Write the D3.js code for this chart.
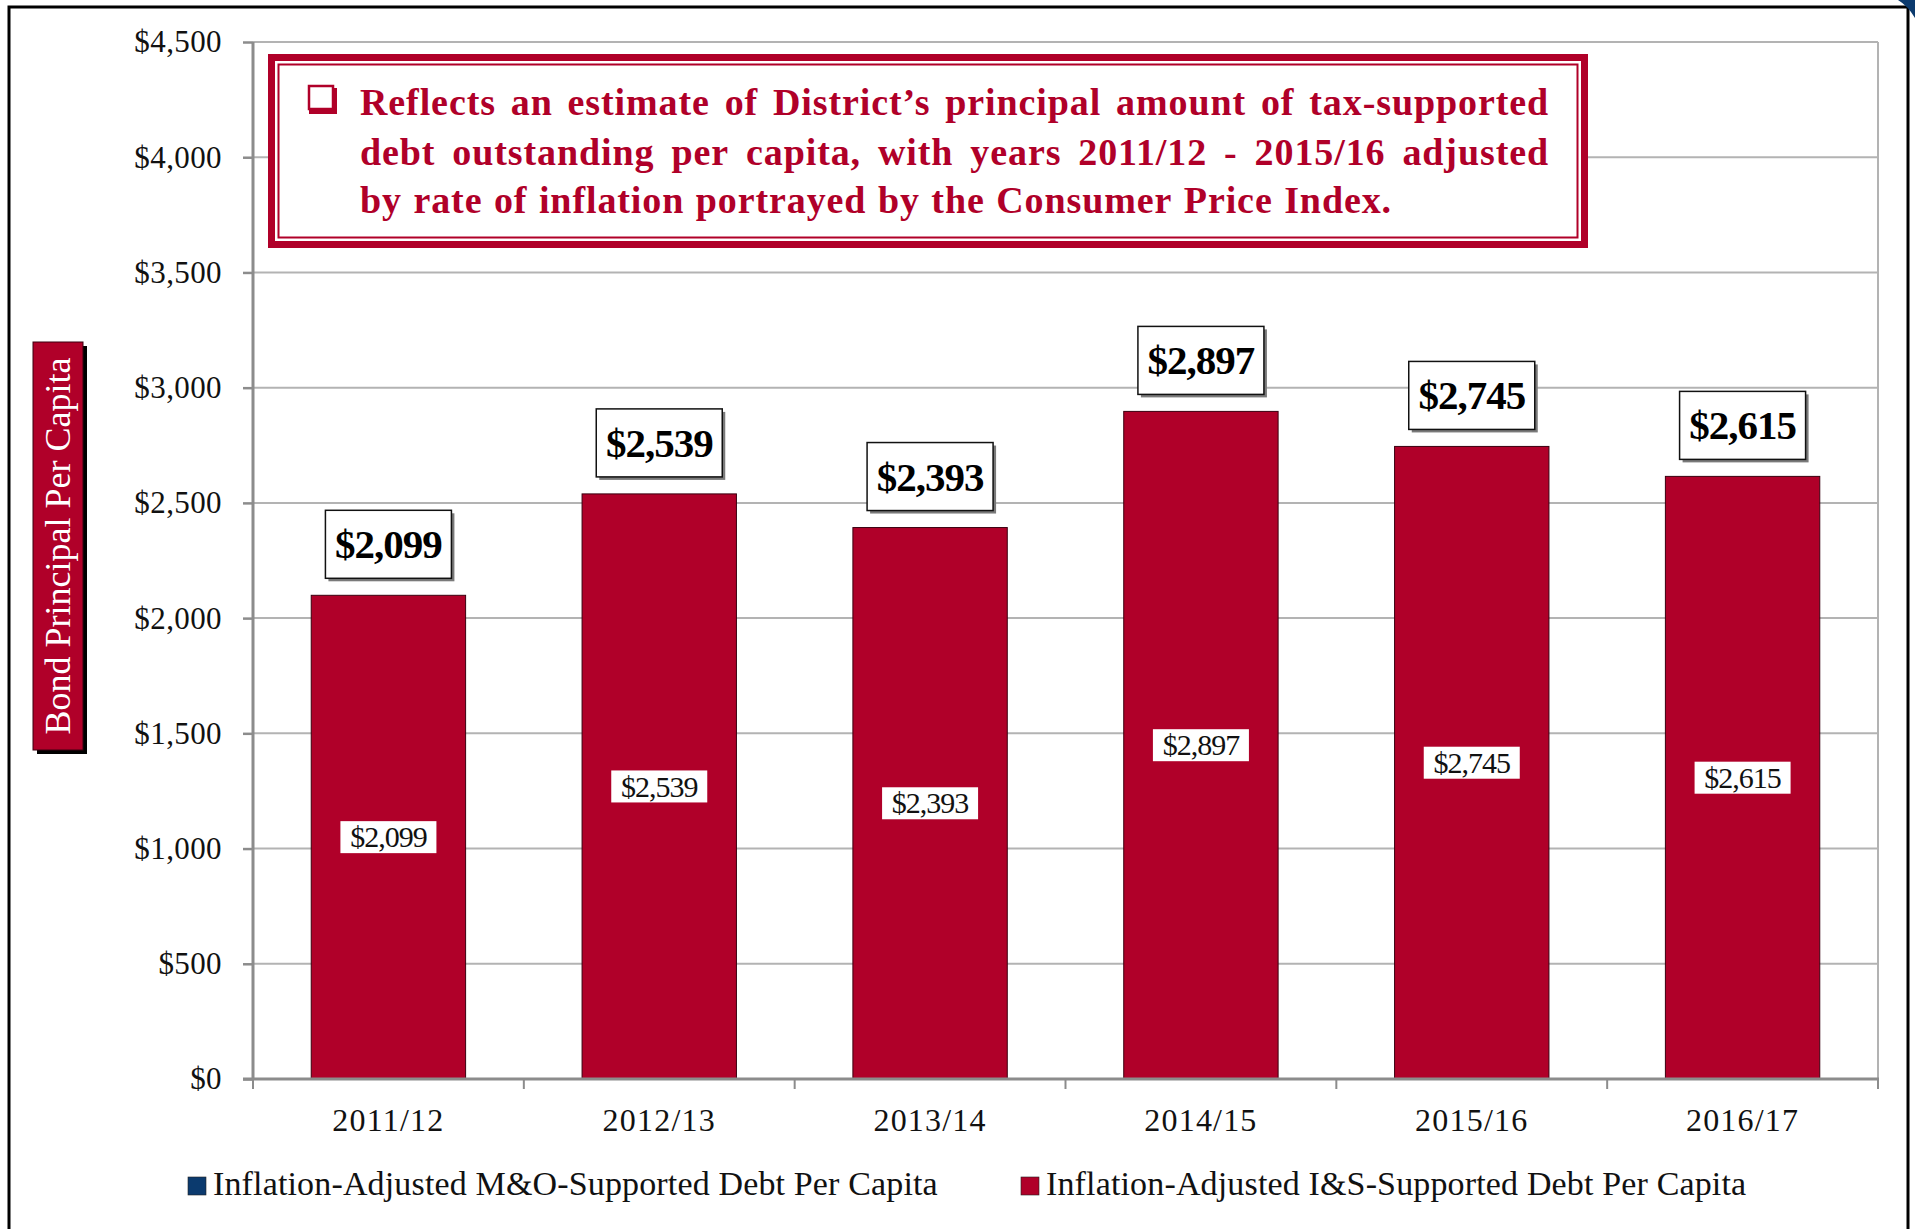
<!DOCTYPE html>
<html>
<head>
<meta charset="utf-8">
<script src="https://cdn.jsdelivr.net/npm/d3@7"></script>
<style>
  body { margin:0; background:#fff; }
  svg { display:block; }
  text { font-family:"Liberation Serif","Times New Roman",serif; }
</style>
</head>
<body>
<div id="chart"></div>
<script>
// data
const years = ["2011/12","2012/13","2013/14","2014/15","2015/16","2016/17"];
const isDebt = [2099, 2539, 2393, 2897, 2745, 2615];
const yTicks = [0,500,1000,1500,2000,2500,3000,3500,4000,4500];
const legendNames = ["Inflation-Adjusted M&O-Supported Debt Per Capita",
                     "Inflation-Adjusted I&S-Supported Debt Per Capita"];
const legendColors = ["#0b3a6e", "#b00029"];
const noteLines = [
  "Reflects an estimate of District\u2019s principal amount of tax-supported",
  "debt outstanding per capita, with years 2011/12 - 2015/16 adjusted",
  "by rate of inflation portrayed by the Consumer Price Index."
];
const yTitle = "Bond Principal Per Capita";

const W = 1915, H = 1229,
      red = "#b00029",
      plot = { left:253, right:1878, top:42, bottom:1079 };

const svg = d3.select("#chart").append("svg").attr("width", W).attr("height", H);

// outer frame
svg.append("rect").attr("x",9).attr("y",7).attr("width",1899).attr("height",1240)
   .attr("fill","none").attr("stroke","#000").attr("stroke-width",3);

const x = d3.scaleBand().domain(years).range([plot.left, plot.right])
            .paddingInner(0.43).paddingOuter(0.215);
const y = d3.scaleLinear().domain([0,4500]).range([plot.bottom, plot.top]);
const money = d => "$" + d3.format(",")(d);

// gridlines
svg.append("g").selectAll("line").data(yTicks.slice(1)).enter().append("line")
   .attr("x1", plot.left).attr("x2", plot.right)
   .attr("y1", d => y(d)).attr("y2", d => y(d))
   .attr("stroke","#b3b3b3").attr("stroke-width",2);
svg.append("line").attr("x1", plot.right).attr("x2", plot.right)
   .attr("y1", plot.top).attr("y2", plot.bottom)
   .attr("stroke","#b3b3b3").attr("stroke-width",2);

// y axis
const yAxis = d3.axisLeft(y).tickValues(yTicks).tickFormat(money).tickSize(10).tickPadding(21);
const yg = svg.append("g").attr("transform", `translate(${plot.left},0)`).call(yAxis);
yg.select(".domain").remove();
yg.selectAll(".tick line").attr("stroke","#8c8c8c").attr("stroke-width",2.5);
yg.selectAll(".tick text").attr("font-size",31).attr("fill","#111")
  .attr("font-family","Liberation Serif, serif").attr("letter-spacing",0.4);
svg.append("line").attr("x1", plot.left).attr("x2", plot.left)
   .attr("y1", plot.top).attr("y2", plot.bottom + 1)
   .attr("stroke","#8c8c8c").attr("stroke-width",3);

// bars
svg.append("g").selectAll("rect").data(isDebt).enter().append("rect")
   .attr("x", (d,i) => x(years[i]))
   .attr("y", d => y(d))
   .attr("width", x.bandwidth())
   .attr("height", d => y(0) - y(d))
   .attr("fill", red).attr("stroke","#3a0010").attr("stroke-width",1);

// x axis
svg.append("line").attr("x1", plot.left - 10).attr("x2", plot.right + 1)
   .attr("y1", plot.bottom).attr("y2", plot.bottom)
   .attr("stroke","#8c8c8c").attr("stroke-width",3);
svg.append("g").selectAll("line").data(d3.range(years.length + 1)).enter().append("line")
   .attr("x1", i => plot.left + i * x.step()).attr("x2", i => plot.left + i * x.step())
   .attr("y1", plot.bottom).attr("y2", plot.bottom + 10)
   .attr("stroke","#8c8c8c").attr("stroke-width",2);
const xAxis = d3.axisBottom(x).tickSize(0).tickPadding(29);
const xg = svg.append("g").attr("transform", `translate(0,${plot.bottom})`).call(xAxis);
xg.select(".domain").remove();
xg.selectAll(".tick text").attr("font-size",32).attr("fill","#111")
  .attr("font-family","Liberation Serif, serif").attr("letter-spacing",1.2);

// inner value labels
const innerLab = svg.append("g").selectAll("g").data(isDebt).enter().append("g")
   .attr("transform", (d,i) => `translate(${x(years[i]) + x.bandwidth()/2},${(y(d) + y(0))/2})`);
innerLab.append("rect").attr("x",-48).attr("y",-16).attr("width",96).attr("height",32).attr("fill","#fff");
innerLab.append("text").attr("text-anchor","middle").attr("dy","0.34em")
   .attr("font-size",30).attr("letter-spacing",-1).attr("fill","#111").text(money);

// top value labels
const topLab = svg.append("g").selectAll("g").data(isDebt).enter().append("g")
   .attr("transform", (d,i) => `translate(${x(years[i]) + x.bandwidth()/2},${y(d) - 16 - 34})`);
topLab.append("rect").attr("x",-60).attr("y",-32).attr("width",126).attr("height",68).attr("fill","#7a7a7a");
topLab.append("rect").attr("x",-63).attr("y",-35).attr("width",126).attr("height",68)
   .attr("fill","#fff").attr("stroke","#111").attr("stroke-width",1.5);
topLab.append("text").attr("text-anchor","middle").attr("y",13)
   .attr("font-size",41).attr("font-weight","bold").attr("letter-spacing",-1)
   .attr("fill","#000").text(money);

// y axis title
svg.append("rect").attr("x",37).attr("y",346).attr("width",50).attr("height",408).attr("fill","#000");
svg.append("rect").attr("x",33).attr("y",342).attr("width",50).attr("height",408)
   .attr("fill",red).attr("stroke","#3a0010").attr("stroke-width",1);
svg.append("text").attr("transform","translate(70,546) rotate(-90)")
   .attr("text-anchor","middle").attr("font-size",36).attr("fill","#fff").text(yTitle);

// note box
const note = svg.append("g");
note.append("rect").attr("x",271.5).attr("y",57.5).attr("width",1313).attr("height",187)
    .attr("fill","#fff").attr("stroke",red).attr("stroke-width",7);
note.append("rect").attr("x",278.5).attr("y",64.5).attr("width",1299).attr("height",173)
    .attr("fill","none").attr("stroke",red).attr("stroke-width",2);
note.append("rect").attr("x",309).attr("y",88).attr("width",28).attr("height",26).attr("fill",red);
note.append("rect").attr("x",309).attr("y",86).attr("width",24).attr("height",23)
    .attr("fill","#fff").attr("stroke",red).attr("stroke-width",2.5);

const noteLeft = 360, noteRight = 1549, noteBase = [115, 165, 213];
noteLines.forEach((line, li) => {
  const words = line.split(" ");
  const texts = words.map(w => note.append("text").attr("y", noteBase[li])
      .attr("font-size",38).attr("font-weight","bold").attr("letter-spacing",0.9)
      .attr("fill",red).text(w));
  const widths = texts.map(t => t.node().getComputedTextLength());
  const total = d3.sum(widths);
  const gap = li < noteLines.length - 1 ? (noteRight - noteLeft - total) / (words.length - 1) : 11.5;
  let cx = noteLeft;
  texts.forEach((t, i) => { t.attr("x", cx); cx += widths[i] + gap; });
});

// legend
const legX = [188, 1021];
const leg = svg.append("g").selectAll("g").data(legendNames).enter().append("g")
   .attr("transform", (d,i) => `translate(${legX[i]},1177)`);
leg.append("rect").attr("width",18).attr("height",18)
   .attr("fill", (d,i) => legendColors[i]).attr("stroke","#222").attr("stroke-width",0.6);
leg.append("text").attr("x",25).attr("y",18).attr("font-size",34).attr("letter-spacing",0.15)
   .attr("fill","#111").text(d => d);

// corner decoration
svg.append("path").attr("d","M1898,0 L1915,0 L1915,18 Q1908,6 1898,0 Z").attr("fill","#0b3a6e");
</script>
</body>
</html>
